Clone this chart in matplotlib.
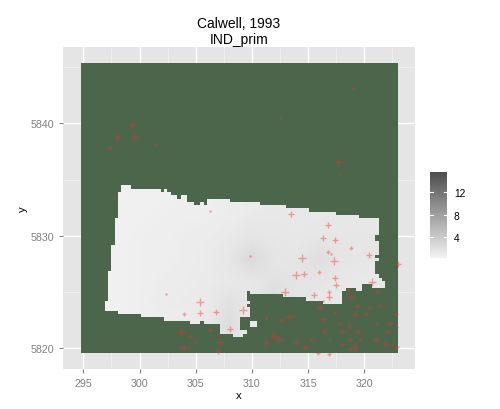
import numpy as np
import matplotlib
matplotlib.use("Agg")
import matplotlib.pyplot as plt
from matplotlib.colors import LinearSegmentedColormap
from matplotlib.patches import PathPatch, Rectangle
from matplotlib.path import Path

plt.rcParams["font.family"] = ["Liberation Sans", "DejaVu Sans"]

# survey points
pt_x = [299.31, 297.97, 299.51, 297.38, 301.47, 297.73, 306.25, 312.53, 318.97, 317.66,
        317.78, 313.48, 302.38, 305.41, 303.99, 305.41, 306.83, 308.08, 303.67, 304.47,
        306.27, 304.94, 307.16, 303.99, 306.96, 316.77, 316.33, 317.39, 318.79, 316.77,
        317.06, 309.86, 314.43, 317.28, 320.45, 323.03, 316.00, 313.90, 314.66, 317.39,
        317.48, 320.69, 312.95, 316.86, 315.55, 316.86, 318.58, 321.10, 318.82, 316.33,
        316.09, 319.35, 320.45, 321.37, 317.39, 319.17, 320.15, 322.82, 309.18, 313.30,
        311.23, 316.35, 312.68, 317.87, 321.04, 322.31, 322.94, 318.64, 316.42, 318.04,
        319.47, 322.11, 311.88, 312.30, 315.23, 316.98, 318.73, 319.64, 321.07, 311.28,
        313.90, 318.04, 321.84, 322.47, 314.72, 319.17, 318.73, 322.91, 315.91, 316.86]
pt_y = [5839.82, 5838.76, 5838.76, 5837.78, 5838.19, 5833.36, 5832.20, 5840.50, 5843.14, 5836.53,
        5835.47, 5831.91, 5824.83, 5824.09, 5823.08, 5823.11, 5823.20, 5821.69, 5821.42, 5821.07,
        5821.60, 5820.53, 5820.53, 5820.09, 5819.73, 5830.93, 5829.78, 5829.60, 5828.89, 5828.53,
        5828.36, 5828.20, 5828.00, 5827.73, 5828.27, 5827.47, 5826.76, 5826.49, 5826.58, 5826.22,
        5825.60, 5825.87, 5824.98, 5824.98, 5824.71, 5824.53, 5825.21, 5825.07, 5824.53, 5824.20,
        5823.64, 5823.73, 5823.64, 5823.73, 5823.20, 5823.02, 5823.02, 5823.02, 5823.38, 5822.76,
        5822.67, 5822.58, 5822.49, 5822.22, 5822.13, 5822.22, 5821.87, 5821.96, 5821.51, 5821.51,
        5821.42, 5821.42, 5821.07, 5820.80, 5820.76, 5820.80, 5820.83, 5820.71, 5820.80, 5820.44,
        5820.53, 5820.36, 5820.36, 5820.27, 5820.09, 5820.09, 5819.94, 5820.09, 5819.61, 5819.47]
pt_level = [3, 4, 4, 2, 1, 1, 1, 1, 1, 4,
            1, 3, 1, 4, 2, 3, 3, 3, 4, 2,
            2, 2, 4, 4, 3, 3, 3, 3, 2, 2,
            1, 1, 4, 4, 3, 3, 2, 4, 3, 3,
            3, 4, 4, 2, 3, 3, 2, 2, 3, 1,
            3, 2, 1, 2, 2, 3, 2, 2, 4, 4,
            2, 3, 2, 1, 1, 3, 1, 3, 3, 3,
            3, 2, 3, 4, 2, 1, 2, 2, 3, 3,
            3, 2, 3, 1, 3, 4, 2, 2, 2, 2]

# interpolated surface, coarse reading of the grey levels
grid_x = [296, 298, 300, 302, 304, 306, 308, 310, 312, 314, 316, 318, 320, 322]
grid_y = [5820, 5822, 5824, 5826, 5828, 5830, 5832, 5834, 5836]
grid_v = [
    [0.6, 0.6, 0.7, 0.8, 0.9, 1.1, 1.4, 1.1, 1.3, 1.3, 1.2, 1.1, 1.1, 1.1],
    [0.6, 0.6, 0.7, 0.8, 0.9, 1.2, 2.4, 1.2, 1.5, 1.4, 1.3, 1.2, 1.1, 1.1],
    [0.6, 0.6, 0.7, 1.0, 1.1, 1.2, 2.0, 1.4, 2.6, 1.6, 1.4, 1.3, 1.2, 1.2],
    [0.6, 0.6, 0.7, 0.9, 1.0, 1.1, 1.3, 1.5, 1.9, 1.7, 1.6, 1.4, 1.3, 1.3],
    [0.6, 0.6, 0.7, 0.8, 0.9, 1.1, 1.5, 2.6, 1.6, 1.5, 2.2, 1.6, 1.5, 1.5],
    [0.6, 0.6, 0.7, 0.8, 0.9, 1.0, 1.2, 1.6, 1.5, 1.4, 1.5, 1.5, 1.5, 1.5],
    [0.6, 0.6, 0.6, 0.7, 0.8, 0.8, 0.9, 1.2, 1.3, 1.3, 1.3, 1.4, 1.4, 1.4],
    [0.5, 0.5, 0.6, 0.6, 0.7, 0.8, 0.9, 1.0, 1.1, 1.2, 1.2, 1.3, 1.3, 1.3],
    [0.5, 0.5, 0.6, 0.6, 0.7, 0.8, 0.9, 0.9, 1.0, 1.0, 1.1, 1.2, 1.3, 1.3],
]

# edge of the surveyed area
area_x = [298.09, 298.35, 298.35, 299.24, 299.24, 301.91, 301.91, 302.18, 302.18, 302.45,
          302.45, 302.80, 302.80, 303.34, 303.34, 303.69, 303.69, 304.23, 304.23, 304.85,
          304.85, 305.38, 305.38, 305.74, 305.74, 306.01, 306.01, 308.05, 308.05, 310.72,
          310.72, 313.03, 313.03, 315.08, 315.08, 317.48, 317.48, 319.53, 319.53, 321.31,
          321.31, 320.95, 320.95, 321.31, 321.31, 320.95, 320.95, 321.31, 321.31, 320.95,
          320.95, 321.31, 321.31, 321.58, 321.58, 321.84, 321.84, 320.69, 320.69, 319.79,
          319.79, 319.26, 319.26, 318.37, 318.37, 318.02, 318.02, 316.33, 316.33, 314.81,
          314.81, 312.77, 312.77, 309.83, 309.83, 309.56, 309.56, 309.83, 309.83, 309.56,
          309.56, 309.83, 309.83, 308.94, 308.94, 309.56, 309.56, 309.21, 309.21, 308.32,
          308.32, 307.16, 307.16, 305.74, 305.74, 305.38, 305.38, 304.50, 304.50, 302.18,
          302.18, 300.13, 300.13, 298.09, 298.09, 296.93, 296.93, 297.20, 297.20, 297.46,
          297.46, 297.82, 297.82, 298.09, 298.09]
area_y = [5833.89, 5833.89, 5834.52, 5834.52, 5834.16, 5834.16, 5833.89, 5833.89, 5834.16, 5834.16,
          5833.89, 5833.89, 5833.63, 5833.63, 5833.27, 5833.27, 5833.63, 5833.63, 5833.00, 5833.00,
          5832.74, 5832.74, 5833.00, 5833.00, 5832.74, 5832.74, 5833.27, 5833.27, 5833.00, 5833.00,
          5832.74, 5832.74, 5832.47, 5832.47, 5832.12, 5832.12, 5831.85, 5831.85, 5831.58, 5831.58,
          5830.07, 5830.07, 5829.54, 5829.54, 5828.29, 5828.29, 5828.03, 5828.03, 5827.76, 5827.76,
          5826.60, 5826.60, 5826.25, 5826.25, 5825.98, 5825.98, 5825.36, 5825.36, 5825.72, 5825.72,
          5825.09, 5825.09, 5825.36, 5825.36, 5825.09, 5825.09, 5823.94, 5823.94, 5824.20, 5824.20,
          5824.56, 5824.56, 5824.83, 5824.83, 5825.09, 5825.09, 5824.20, 5824.20, 5823.94, 5823.94,
          5823.67, 5823.67, 5822.78, 5822.78, 5821.63, 5821.63, 5821.27, 5821.27, 5821.00, 5821.00,
          5821.27, 5821.27, 5822.16, 5822.16, 5822.43, 5822.43, 5822.16, 5822.16, 5822.43, 5822.43,
          5822.78, 5822.78, 5823.05, 5823.05, 5823.32, 5823.32, 5824.20, 5824.20, 5826.87, 5826.87,
          5829.18, 5829.18, 5831.58, 5831.58, 5833.89]
# small detached patch
patch_x = [309.83, 310.45, 310.45, 309.83, 309.83]
patch_y = [5822.43, 5822.43, 5821.89, 5821.89, 5822.43]

x_major = [295, 300, 305, 310, 315, 320]
x_minor = [297.5, 302.5, 307.5, 312.5, 317.5, 322.5]
y_major = [5820, 5830, 5840]
y_minor = [5825, 5835, 5845]
legend_ticks = [4, 8, 12]
value_min, value_max = 0.42, 15.46

W, H = 500, 410
fig = plt.figure(figsize=(W / 100, H / 100), dpi=100)
ax = fig.add_axes([63 / W, 1 - 370 / H, 352 / W, 322 / H])
ax.set_facecolor("#e5e5e5")
for s in ax.spines.values():
    s.set_visible(False)

ax.set_xticks(x_major)
ax.set_xticks(x_minor, minor=True)
ax.set_yticks(y_major)
ax.set_yticks(y_minor, minor=True)
ax.grid(True, which="major", color="white", lw=1.0, zorder=0)
ax.grid(True, which="minor", color="#f2f2f2", lw=0.6, zorder=0)
ax.set_axisbelow(True)
ax.tick_params(which="major", length=3, width=0.8, color="#7f7f7f", labelcolor="#7f7f7f",
               labelsize=7.7, pad=3.5)
ax.tick_params(which="minor", length=0)

ax.add_patch(Rectangle((294.80, 5819.58), 28.2, 25.78, fc="#4b664b", ec="none", zorder=1))

cmap = LinearSegmentedColormap.from_list("grey_fill", ["#f2f2f2", "#4d4d4d"])
surface = ax.imshow(np.array(grid_v), origin="lower", cmap=cmap, vmin=value_min, vmax=value_max,
                    extent=[grid_x[0] - 1, grid_x[-1] + 1, grid_y[0] - 1, grid_y[-1] + 1],
                    interpolation="bilinear", aspect="auto", zorder=2)
ax.set_xlim(293.19, 324.51)
ax.set_ylim(5818.16, 5846.78)

verts = list(zip(area_x, area_y)) + list(zip(patch_x, patch_y))
codes = ([Path.MOVETO] + [Path.LINETO] * (len(area_x) - 1)
         + [Path.MOVETO] + [Path.LINETO] * (len(patch_x) - 1))
clip = PathPatch(Path(verts, codes), fc="none", ec="none", transform=ax.transData)
ax.add_patch(clip)
surface.set_clip_path(clip)

# one plot call per size so the crosses snap to whole pixels
marker_pt = {1: 1.6, 2: 2.8, 3: 4.0, 4: 5.6}
pt_x_arr, pt_y_arr, pt_level_arr = np.array(pt_x), np.array(pt_y), np.array(pt_level)
for level, ms in marker_pt.items():
    keep = pt_level_arr == level
    ax.plot(pt_x_arr[keep], pt_y_arr[keep], ls="none", marker="+", ms=ms, mew=1.0,
            color="#ff2a2a", alpha=0.42, zorder=3, clip_on=False)

fig.text(239 / W, 1 - 24 / H, "Calwell, 1993", ha="center", va="center", fontsize=10, color="black")
fig.text(239 / W, 1 - 40 / H, "IND_prim", ha="center", va="center", fontsize=10, color="black")
fig.text(239 / W, 1 - 396 / H, "x", ha="center", va="center", fontsize=8.2, color="black")
fig.text(23 / W, 1 - 209 / H, "y", ha="center", va="center", rotation=90, fontsize=8.2, color="black")

# colour bar
cax = fig.add_axes([430 / W, 1 - 258.7 / H, 17 / W, 85.7 / H])
sm = plt.cm.ScalarMappable(cmap=cmap, norm=plt.Normalize(value_min, value_max))
cb = fig.colorbar(sm, cax=cax)
cb.outline.set_visible(False)
cb.set_ticks(legend_ticks)
cb.ax.tick_params(length=0, labelsize=7.4, pad=5, labelcolor="black")
for t in legend_ticks:
    cax.plot([0, 0.2], [t, t], transform=cax.get_yaxis_transform(), color="white", lw=0.8)
    cax.plot([0.8, 1], [t, t], transform=cax.get_yaxis_transform(), color="white", lw=0.8)

fig.savefig("out.png", dpi=100, facecolor="white")
